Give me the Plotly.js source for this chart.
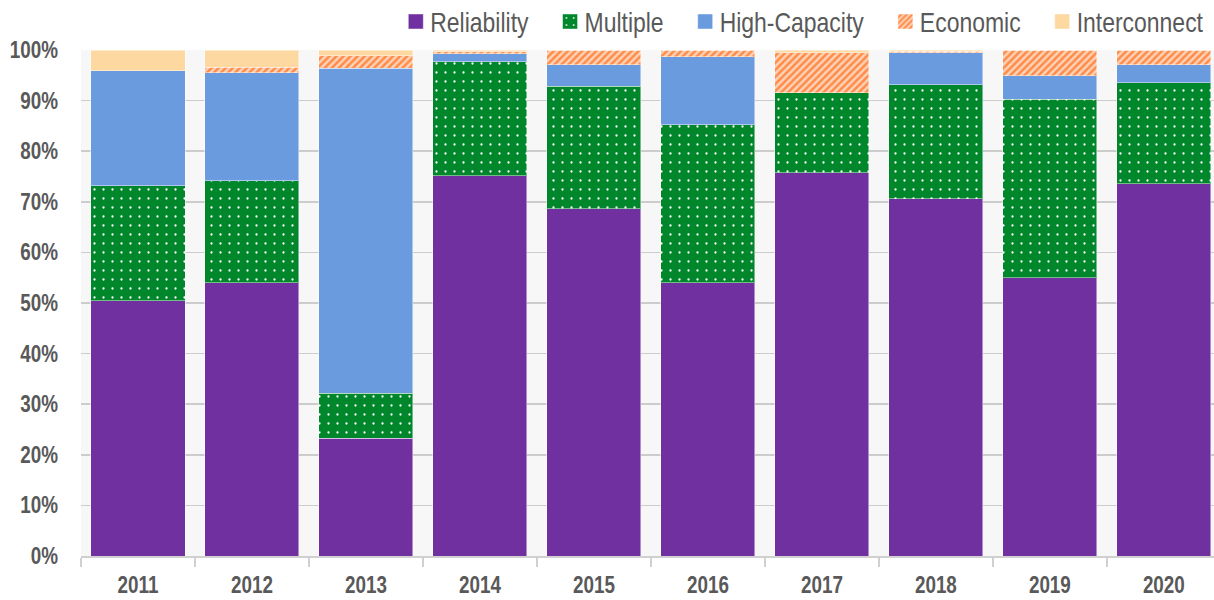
<!DOCTYPE html>
<html>
<head>
<meta charset="utf-8">
<script src="https://cdn.plot.ly/plotly-3.0.1.min.js"></script>
<style>html,body{margin:0;padding:0;background:#fff;}#chart{width:1214px;height:600px;}</style>
</head>
<body>
<div id="chart"></div>
<script>
const years = ['2011','2012','2013','2014','2015','2016','2017','2018','2019','2020'];
const reliability  = [50.4, 54.0, 23.3, 75.1, 68.6, 54.0, 75.7, 70.6, 55.0, 73.6];
const multiple     = [22.8, 20.2,  8.9, 22.6, 24.2, 31.2, 15.9, 22.5, 35.3, 19.9];
const highCapacity = [22.7, 21.3, 64.2,  1.6,  4.3, 13.5,  0.0,  6.4,  4.6,  3.6];
const economic     = [ 0.0,  1.1,  2.5,  0.4,  2.9,  1.3,  7.9,  0.3,  5.1,  2.9];
const interconnect = [ 4.1,  3.4,  1.1,  0.3,  0.0,  0.0,  0.5,  0.2,  0.0,  0.0];
const yTicks = [0,10,20,30,40,50,60,70,80,90,100];
const yTickText = yTicks.map(v => v + '%');

const lineStyle = {width: 1, color: 'rgba(255,255,255,0.45)'};
const traces = [
  {name: 'Reliability', y: reliability, marker: {color: '#7030A0', line: lineStyle}},
  {name: 'Multiple', y: multiple, marker: {color: '#00862B', line: lineStyle,
     pattern: {shape: '.', fgcolor: '#ffffff', bgcolor: '#00862B', size: 9, solidity: 0.05, fillmode: 'replace'}}},
  {name: 'High-Capacity', y: highCapacity, marker: {color: '#6A9BDE', line: lineStyle}},
  {name: 'Economic', y: economic, marker: {color: '#FF8B48', line: lineStyle,
     pattern: {shape: '/', fgcolor: '#FF8B48', bgcolor: '#FDD3B8', size: 5, solidity: 0.5, fillmode: 'replace'}}},
  {name: 'Interconnect', y: interconnect, marker: {color: '#FDD9A1', line: lineStyle}}
].map(t => Object.assign({type: 'bar', x: years, hoverinfo: 'skip'}, t));

const tickFont = {family: '"Liberation Sans", Arial, sans-serif', size: 23, color: '#595959', weight: 'bold'};

const layout = {
  width: 1214, height: 600,
  margin: {l: 81, r: 0, t: 50, b: 44, pad: 0, autoexpand: false},
  paper_bgcolor: '#ffffff',
  plot_bgcolor: '#f7f7f7',
  barmode: 'stack',
  bargap: 0.175,
  showlegend: true,
  legend: {orientation: 'h', x: 0.998, xanchor: 'right', y: 1.058, yanchor: 'middle',
           traceorder: 'normal', font: {family: '"Liberation Sans", Arial, sans-serif', size: 28, color: '#595959'},
           bgcolor: 'rgba(0,0,0,0)'},
  xaxis: {type: 'category', range: [-0.5, 9.44], tickfont: tickFont,
          showgrid: false, showline: true, linecolor: '#d0d0d0', linewidth: 1.5,
          ticks: 'outside', tickson: 'boundaries', ticklen: 9, tickcolor: '#d0d0d0', tickwidth: 1.5,
          ticklabelstandoff: 8, fixedrange: true},
  yaxis: {range: [0, 100], tickvals: yTicks, ticktext: yTickText, tickfont: tickFont,
          showgrid: true, gridcolor: '#cccccc', gridwidth: 1.5, zeroline: false, showline: false,
          ticks: '', ticklabelstandoff: 22, fixedrange: true}
};

const S = 0.82; // narrow-font emulation
function condense(t) {
  const x = parseFloat(t.getAttribute('x')) || 0;
  const prev = t.getAttribute('transform') || '';
  t.setAttribute('transform', prev + ' translate(' + x + ',0) scale(' + S + ',1) translate(' + (-x) + ',0)');
}
function parseTr(el) {
  const m = /translate\(\s*([-\d.e]+)[ ,]+([-\d.e]+)\s*\)/.exec(el.getAttribute('transform') || '');
  return m ? [parseFloat(m[1]), parseFloat(m[2])] : [0, 0];
}

Plotly.newPlot('chart', traces, layout, {staticPlot: true, displayModeBar: false}).then(gd => {
  gd.querySelectorAll('.xtick text, .ytick text').forEach(condense);
  const sb = gd.querySelector('.legend .scrollbox');
  if (sb) sb.removeAttribute('clip-path');
  const items = Array.from(gd.querySelectorAll('.legend .traces'));
  const widths = items.map(it => it.querySelector('.legendtext').getBBox().width * S);
  items.forEach(it => {
    it.querySelectorAll('.legendpoints path').forEach(p => {
      p.setAttribute('d', 'M7.5,7.5H-7.5V-7.5H7.5Z');
      p.setAttribute('transform', 'translate(25.5,0)');
    });
    condense(it.querySelector('.legendtext'));
  });
  if (!items.length) return;
  let [tx, ty] = parseTr(items[0]);
  const pos = [];
  items.forEach((it, i) => { pos.push(tx); tx += widths[i] + 56; });
  items.forEach((it, i) => it.setAttribute('transform', 'translate(' + pos[i] + ',' + ty + ')'));
  const box = gd.getBoundingClientRect();
  const lastR = items[items.length - 1].querySelector('.legendtext').getBoundingClientRect().right - box.left;
  const sym = items[0].querySelector('.legendpoints path').getBoundingClientRect();
  const dx = 1203 - lastR;
  const dy = 21.5 - ((sym.top + sym.bottom) / 2 - box.top);
  items.forEach((it, i) => it.setAttribute('transform', 'translate(' + (pos[i] + dx) + ',' + (ty + dy) + ')'));
});
</script>
</body>
</html>
